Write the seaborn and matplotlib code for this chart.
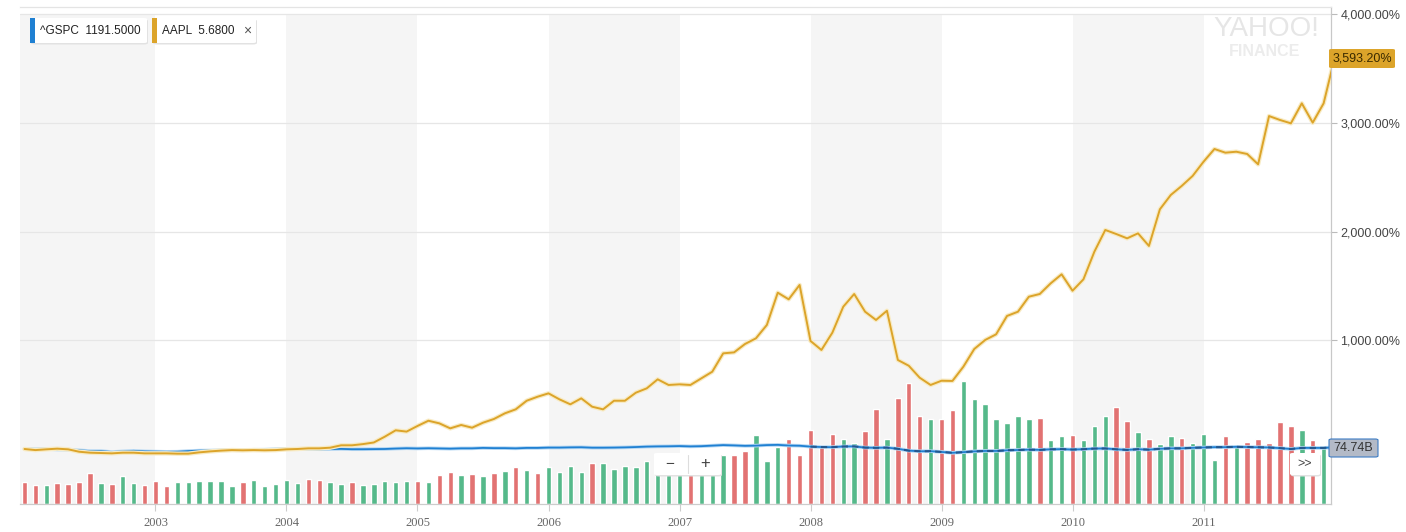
import matplotlib
matplotlib.use("Agg")
import matplotlib.pyplot as plt
from matplotlib.patches import FancyBboxPatch, Rectangle
import seaborn as sns
import pandas as pd
import numpy as np

# ---- data (monthly, Jan 2002 .. Jan 2012) ----
year_labels = ["2003", "2004", "2005", "2006", "2007", "2008", "2009", "2010", "2011"]

aapl_pct = [
    0, -10, -3, 3, -3, -25, -34, -37, -40, -34, -34, -40,
    -40, -40, -43, -43, -31, -22, -15, -10, -12, -10, -12, -10,
    -3, 0, 6, 6, 12, 34, 34, 45, 60, 113, 172, 160,
    212, 260, 236, 190, 221, 196, 242, 276, 328, 365, 444, 481,
    512, 457, 411, 466, 389, 365, 444, 444, 518, 558, 641, 589,
    595, 589, 650, 711, 880, 889, 966, 1018, 1141, 1438, 1377, 1509,
    994, 911, 1070, 1309, 1426, 1263, 1187, 1272, 819, 766, 656, 589,
    628, 626, 757, 920, 1003, 1055, 1224, 1263, 1401, 1426, 1524, 1607,
    1456, 1561, 1815, 2015, 1978, 1938, 1984, 1868, 2205, 2337, 2420, 2512,
    2643, 2760, 2726, 2735, 2714, 2619, 3063, 3027, 2996, 3180, 3002, 3180,
    3593.2,
]

gspc_pct = [
    0, -2, 1, -5, -6, -12, -19, -19, -28, -22, -17, -22,
    -24, -26, -25, -19, -15, -14, -12, -11, -12, -7, -6, -2,
    0, 1, 0, -2, -1, 1, -2, -2, -1, 0, 4, 7,
    5, 7, 5, 3, 6, 6, 10, 8, 8, 6, 10, 10,
    13, 13, 15, 16, 12, 12, 13, 15, 18, 22, 24, 25,
    27, 24, 26, 31, 36, 33, 29, 31, 36, 38, 32, 30,
    22, 18, 17, 23, 24, 13, 11, 13, 2, -15, -21, -20,
    -27, -35, -29, -22, -18, -18, -12, -9, -6, -8, -3, -1,
    -5, -2, 4, 5, -3, -8, -2, -6, 2, 6, 6, 11,
    14, 17, 17, 20, 18, 16, 14, 8, 0, 10, 10, 10,
    16,
]

# volume in billions, Jan 2002 .. Dec 2011
volume_b = [
    29.8, 25.4, 25.4, 28.4, 26.7, 29.8, 41.8, 28.4, 27.1, 37.4, 28.4, 25.4,
    31.1, 24.0, 29.8, 29.8, 31.1, 31.1, 31.1, 24.0, 29.8, 32.0, 24.0, 26.7,
    32.4, 27.6, 34.0, 32.3, 28.7, 27.1, 28.7, 25.6, 27.2, 31.0, 29.9, 31.1,
    31.0, 28.7, 39.1, 43.2, 39.0, 40.0, 37.4, 41.8, 44.4, 49.8, 45.6, 41.8,
    49.8, 43.0, 50.7, 43.0, 55.0, 55.0, 47.1, 50.7, 49.6, 57.7, 53.4, 56.1,
    50.7, 58.7, 53.4, 56.1, 65.4, 65.4, 71.0, 92.1, 57.7, 76.3, 86.7, 65.4,
    98.8, 78.7, 93.4, 86.7, 81.7, 97.7, 126.8, 86.7, 141.7, 161.8, 117.4, 113.4,
    113.4, 125.5, 164.2, 140.1, 133.5, 113.4, 108.5, 117.4, 113.4, 114.8, 85.4, 90.8,
    92.4, 85.4, 104.1, 117.4, 129.5, 110.8, 96.1, 86.7, 80.1, 90.8, 88.1, 81.4,
    93.4, 58.7, 90.8, 77.4, 82.7, 86.7, 81.4, 109.4, 104.1, 98.8, 85.4, 74.74,
]

# month direction per year: r = down, g = up
volume_dir_by_year = [
    "rrgrrrrgrggr",  # 2002
    "rrggggggrggg",  # 2003
    "ggrrggrggggg",  # 2004
    "rgrrgrgrgrgr",  # 2005
    "ggggrggggggg",  # 2006
    "grgggrrgggrr",  # 2007
    "rrrggrrgrrrg",  # 2008
    "rrgggggggrgg",  # 2009
    "rgggrrgrggrg",  # 2010
    "ggrgrrrrrgrg",  # 2011
]
volume_dir = "".join(volume_dir_by_year)

RED = "#e27272"
GREEN = "#55b98a"
GOLD = "#dca42a"
BLUE = "#1f80d2"

W, H = 1406, 532
sns.set_style("white")
plt.rcParams["font.family"] = ["Liberation Sans", "DejaVu Sans"]

fig = plt.figure(figsize=(W / 100, H / 100), dpi=100)

# plot area in pixels: x 20..1330.5, y 7..504
ax = fig.add_axes([20 / W, (H - 504) / H, 1310.5 / W, 497 / H])
ax2 = ax.twinx()

x0 = -0.41
x1 = 119.63

# alternating year bands (even years shaded)
for start in range(0, 120, 24):
    left = x0 - 1 if start == 0 else start
    ax.axvspan(left, start + 12, ymin=0, ymax=(504 - 14) / 497,
               color="#f5f5f5", lw=0, zorder=0)

vol = pd.DataFrame({
    "month": np.arange(len(volume_b)),
    "volume": volume_b,
    "dir": ["up" if c == "g" else "down" for c in volume_dir],
})
sns.barplot(data=vol, x="month", y="volume", hue="dir",
            palette={"up": GREEN, "down": RED}, dodge=False, width=0.5,
            saturation=1, native_scale=True, legend=False, ax=ax, zorder=2)
ax.set_ylim(0, 497 * 74.74 / 56)
ax.set_yticks([])
ax.set_ylabel("")
ax.set_xlabel("")

# lines on top axis (percent)
months = np.arange(len(aapl_pct))
for lvl in [1000, 2000, 3000, 4000]:
    ax2.axhline(lvl, color="#e6e6e6", lw=0.9, zorder=1)

sns.lineplot(x=months, y=gspc_pct, color="#b5d7f3", lw=2.6, ax=ax2, zorder=3)
sns.lineplot(x=months, y=gspc_pct, color=BLUE, lw=1.3, ax=ax2, zorder=4)
sns.lineplot(x=months[72:], y=gspc_pct[72:], color="#24588f", lw=1.5,
             linestyle=(0, (3, 2)), ax=ax2, zorder=5)
sns.lineplot(x=months, y=aapl_pct, color="#f8ebc4", lw=3.2, ax=ax2, zorder=6)
sns.lineplot(x=months, y=aapl_pct, color=GOLD, lw=1.4, ax=ax2, zorder=7)

ax2.set_ylim((449 - 504) / 0.1087, (449 - 7) / 0.1087)
ax2.set_yticks([1000, 2000, 3000, 4000])
ax2.set_yticklabels(["1,000.00%", "2,000.00%", "3,000.00%", "4,000.00%"])
ax2.tick_params(axis="y", length=4, width=0.8, color="#bbbbbb", pad=3,
                labelsize=9, labelcolor="#444444")

ax.set_xlim(x0, x1)
ax.set_xticks(np.arange(12, 120, 12))
ax.set_xticklabels(year_labels, family=["Liberation Serif", "DejaVu Serif"],
                   fontsize=9, color="#666666")
ax.tick_params(axis="x", length=5, width=0.8, color="#cccccc", pad=4, bottom=True)

for a in (ax, ax2):
    a.spines["left"].set_visible(False)
    a.spines["top"].set_color("#e4e4e4")
    a.spines["right"].set_color("#c8c8c8")
    a.spines["bottom"].set_color("#cccccc")
    a.grid(False)


def fx(x):
    return x / W


def fy(y):
    return 1 - y / H


def box(xa, ya, xb, yb, face, edge="none", shadow=True, z=20):
    if shadow:
        fig.add_artist(FancyBboxPatch((fx(xa + 1), fy(yb + 1.5)), fx(xb - xa), (yb - ya) / H,
                                      boxstyle="round,pad=0,rounding_size=0.003",
                                      transform=fig.transFigure, fc="#e2e2e2", ec="none",
                                      zorder=z - 1))
    fig.add_artist(FancyBboxPatch((fx(xa), fy(yb)), fx(xb - xa), (yb - ya) / H,
                                  boxstyle="round,pad=0,rounding_size=0.002",
                                  transform=fig.transFigure, fc=face, ec=edge, lw=0.8,
                                  zorder=z))


# legend chips
box(30, 18, 147, 43, "white")
fig.add_artist(Rectangle((fx(30), fy(43)), fx(5), 25 / H, transform=fig.transFigure,
                         fc=BLUE, ec="none", zorder=21))
fig.text(fx(40), fy(30.5), "^GSPC  1191.5000", fontsize=8.5, color="#222222",
         va="center", ha="left", zorder=22)

box(152, 18, 256, 43, "white")
fig.add_artist(Rectangle((fx(152), fy(43)), fx(5), 25 / H, transform=fig.transFigure,
                         fc=GOLD, ec="none", zorder=21))
fig.text(fx(162), fy(30.5), "AAPL  5.6800", fontsize=8.5, color="#222222",
         va="center", ha="left", zorder=22)
fig.text(fx(247), fy(30.5), "\u00d7", fontsize=10, color="#555555",
         va="center", ha="center", zorder=22)

# watermark
fig.text(fx(1266), fy(29), "YAHOO!", fontsize=20, color="#e6e6e6",
         va="center", ha="center", zorder=1.5)
fig.text(fx(1265), fy(52), "FINANCE", fontsize=11.5, color="#ececec",
         va="center", ha="center", zorder=1.5, fontweight="bold")

# value flags on the right axis
box(1329, 49, 1395, 68, GOLD, shadow=False)
fig.text(fx(1362), fy(58.5), "3,593.20%", fontsize=9, color="#3a2a00",
         va="center", ha="center", zorder=22)
box(1329, 439, 1378, 457, "#b3bac7", edge="#3d7cc4", shadow=False)
fig.text(fx(1353.5), fy(448), "74.74B", fontsize=9, color="#333333",
         va="center", ha="center", zorder=22)

# zoom buttons and scroll button
box(654, 453, 721, 475, "white")
fig.text(fx(670), fy(463.5), "\u2212", fontsize=11, color="#444444",
         va="center", ha="center", zorder=22)
fig.text(fx(705), fy(463.5), "+", fontsize=12, color="#444444",
         va="center", ha="center", zorder=22)
fig.add_artist(plt.Line2D([fx(688), fx(688)], [fy(455), fy(473)], color="#dddddd",
                          lw=0.8, transform=fig.transFigure, zorder=22))
box(1290, 453, 1320, 475, "white")
fig.text(fx(1305), fy(463.5), ">>", fontsize=9, color="#444444",
         va="center", ha="center", zorder=22)

fig.savefig("out.png", dpi=100)
